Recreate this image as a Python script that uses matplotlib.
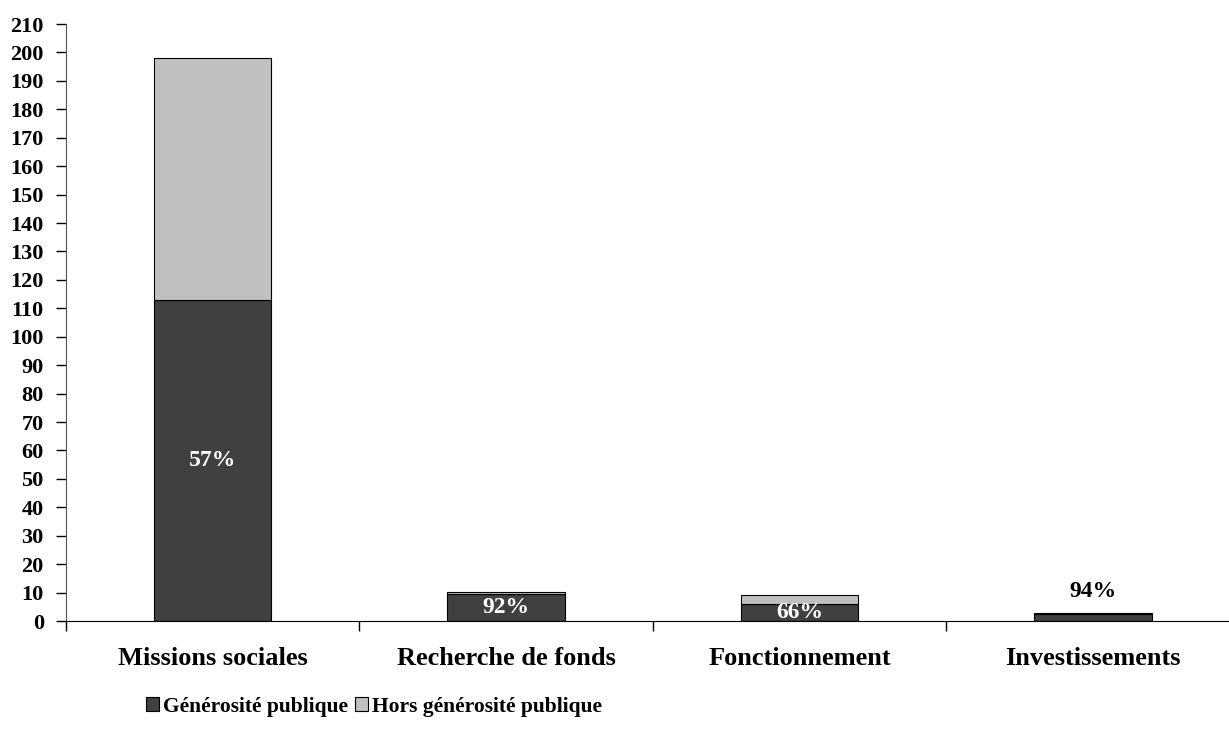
import numpy as np
import matplotlib
matplotlib.use('Agg')
import matplotlib.pyplot as plt
from matplotlib.patches import Patch

categories = ['Missions sociales', 'Recherche de fonds', 'Fonctionnement', 'Investissements']
generosite = [113.0, 9.5, 6.1, 2.6]
horsGenerosite = [85.0, 0.8, 3.1, 0.2]
pctLabels = ['57%', '92%', '66%', '94%']
seriesNames = ['Générosité publique', 'Hors générosité publique']

darkColor = '#404040'
lightColor = '#c0c0c0'

plt.rcParams['font.family'] = ['Liberation Serif', 'DejaVu Serif']
plt.rcParams['font.weight'] = 'bold'

fig = plt.figure(figsize=(12.29, 7.44), dpi=100)
ax = fig.add_axes([0.0537, 0.1653, 0.955, 0.8024])

x = np.arange(len(categories))
ax.bar(x, generosite, width=0.4, color=darkColor, edgecolor='black', linewidth=0.8)
ax.bar(x, horsGenerosite, width=0.4, bottom=generosite, color=lightColor, edgecolor='black', linewidth=0.8)

# percentage labels: inside the dark bar, or above when the bar is too small
for i, lab in enumerate(pctLabels):
	total = generosite[i] + horsGenerosite[i]
	if total < 5:
		ax.text(x[i], total + 4, lab, ha='center', va='bottom', color='black', fontsize=17, fontweight='bold')
	else:
		ax.text(x[i], generosite[i] / 2, lab, ha='center', va='center', color='white', fontsize=17, fontweight='bold')

ax.set_xlim(-0.5, 3.5)
ax.set_ylim(0, 210)
ax.set_yticks(np.arange(0, 211, 10))
ax.tick_params(axis='y', labelsize=16, length=7, direction='out', width=1, pad=9)
for t in ax.get_yticklabels():
	t.set_fontweight('bold')

ax.set_xticks(x)
ax.set_xticklabels(categories, fontsize=19, fontweight='bold')
ax.tick_params(axis='x', length=0, pad=19)
ax.set_xticks(np.arange(-0.5, 4.0, 1.0), minor=True)
ax.tick_params(axis='x', which='minor', length=7, width=1)

for s in ['top', 'right']:
	ax.spines[s].set_visible(False)
ax.spines['left'].set_color('#555555')
ax.spines['bottom'].set_color('black')

handles = [Patch(facecolor=darkColor, edgecolor='black', linewidth=0.8),
	Patch(facecolor=lightColor, edgecolor='black', linewidth=0.8)]
fig.legend(handles, seriesNames, loc='center left', bbox_to_anchor=(0.103, 0.05), ncol=2,
	frameon=False, handlelength=0.6, handleheight=0.6, handletextpad=0.2, columnspacing=0.3,
	prop={'family': 'Liberation Serif', 'weight': 'bold', 'size': 15.5})

fig.savefig('out.png', dpi=100)
